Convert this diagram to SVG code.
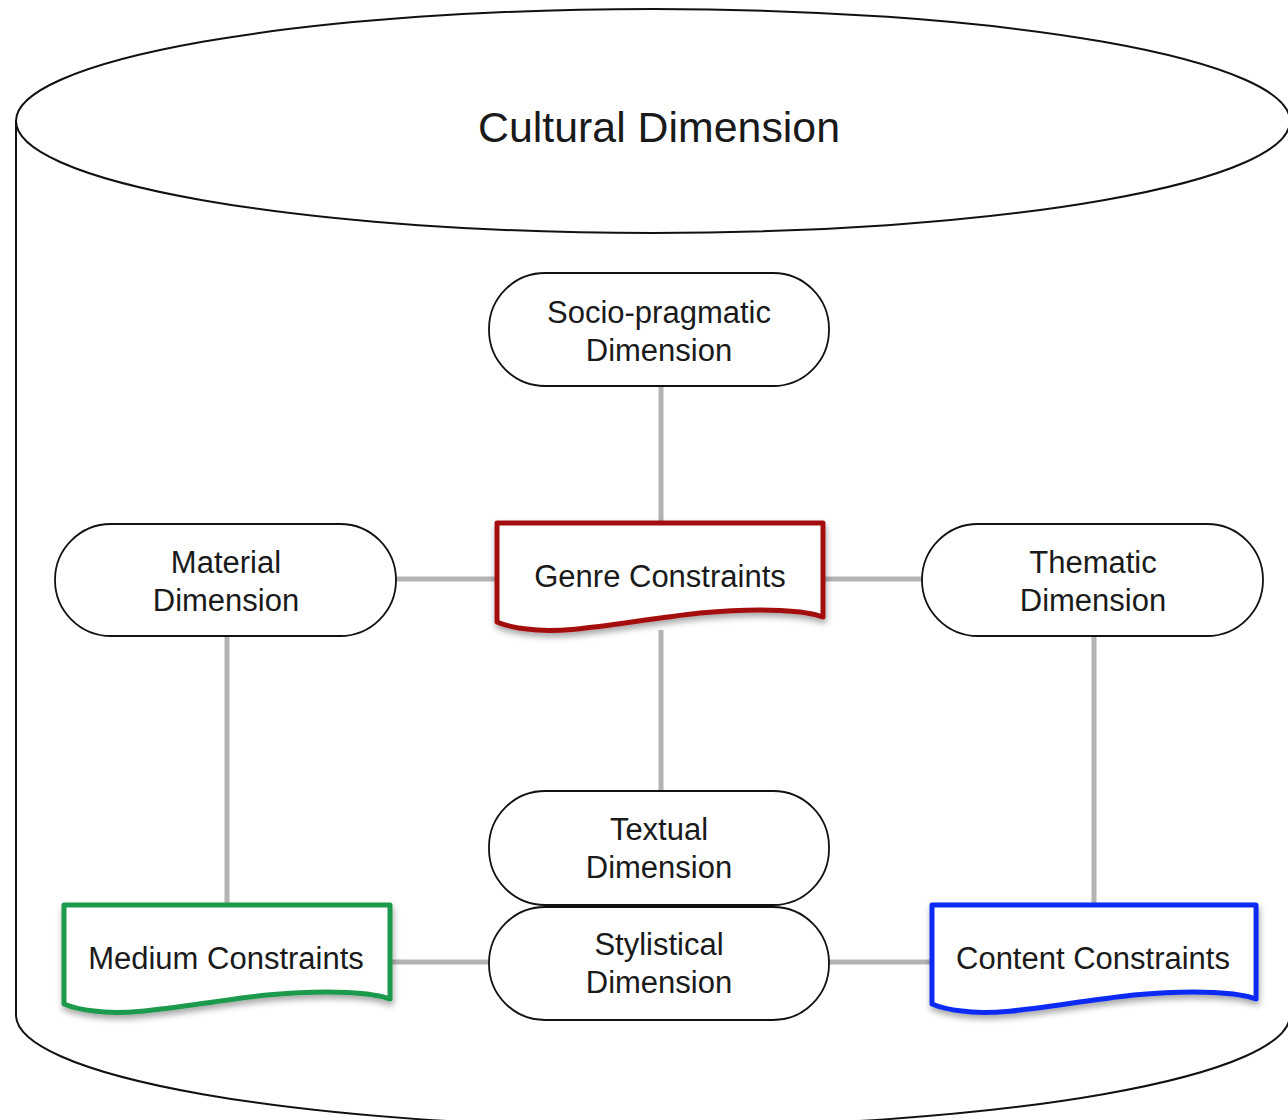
<svg xmlns="http://www.w3.org/2000/svg" width="1288" height="1120" viewBox="0 0 1288 1120">
<style>
.pill{fill:#fff;stroke:#111;stroke-width:1.8}
.cyl{fill:none;stroke:#111;stroke-width:2}
.t{font-family:"Liberation Sans",Arial,sans-serif;font-size:31px;fill:#1a1a1a;text-anchor:middle}
.conn{stroke:#b3b3b3;stroke-width:5;fill:none}
.doc{fill:#fff;stroke-width:5;stroke-linejoin:round}
</style>
<defs>
<filter id="sh" x="-10%" y="-10%" width="125%" height="140%">
<feDropShadow dx="1" dy="4" stdDeviation="3" flood-color="#000" flood-opacity="0.35"/>
</filter>
<path id="docshape" d="M0,0 H326 V94 C310,88 270,84 203,90 C130,98 70,112 30,106 Q12,104 0,99 Z"/>
</defs>
<rect width="1288" height="1120" fill="#fff"/>
<g id="cylinder">
<path class="cyl" d="M16,121 V1015 A637,112 0 0 0 1290,1015 V121"/>
<ellipse class="cyl" cx="653" cy="121" rx="637" ry="112" fill="#fff"/>
<text class="t" x="659" y="142" style="font-size:43px" textLength="362" lengthAdjust="spacingAndGlyphs">Cultural Dimension</text>
</g>
<g id="connectors">
<line class="conn" x1="661" y1="386" x2="661" y2="523"/>
<line class="conn" x1="396" y1="579" x2="497" y2="579"/>
<line class="conn" x1="823" y1="579" x2="922" y2="579"/>
<line class="conn" x1="661" y1="630" x2="661" y2="791"/>
<line class="conn" x1="227" y1="636" x2="227" y2="905"/>
<line class="conn" x1="1094" y1="636" x2="1094" y2="905"/>
<line class="conn" x1="391" y1="962" x2="489" y2="962"/>
<line class="conn" x1="829" y1="962" x2="932" y2="962"/>
</g>
<g id="socio">
<rect class="pill" x="489" y="273" width="340" height="113" rx="56"/>
<text class="t" x="659" y="323">Socio-pragmatic</text>
<text class="t" x="659" y="361">Dimension</text>
</g>
<g id="genre">
<use href="#docshape" transform="translate(497,523)" class="doc" stroke="#a30f0f" filter="url(#sh)"/>
<text class="t" x="660" y="587">Genre Constraints</text>
</g>
<g id="material">
<rect class="pill" x="55" y="524" width="341" height="112" rx="56"/>
<text class="t" x="226" y="573">Material</text>
<text class="t" x="226" y="611">Dimension</text>
</g>
<g id="thematic">
<rect class="pill" x="922" y="524" width="341" height="112" rx="56"/>
<text class="t" x="1093" y="573">Thematic</text>
<text class="t" x="1093" y="611">Dimension</text>
</g>
<g id="textual">
<rect class="pill" x="489" y="791" width="340" height="114" rx="56"/>
<text class="t" x="659" y="840">Textual</text>
<text class="t" x="659" y="878">Dimension</text>
</g>
<g id="stylistical">
<rect class="pill" x="489" y="907" width="340" height="113" rx="56"/>
<text class="t" x="659" y="955">Stylistical</text>
<text class="t" x="659" y="993">Dimension</text>
</g>
<g id="medium">
<use href="#docshape" transform="translate(64,905)" class="doc" stroke="#1f9a4c" filter="url(#sh)"/>
<text class="t" x="226" y="969">Medium Constraints</text>
</g>
<g id="content">
<use href="#docshape" transform="translate(932,905) scale(0.994,1)" class="doc" stroke="#0a2cf5" filter="url(#sh)"/>
<text class="t" x="1093" y="969">Content Constraints</text>
</g>
</svg>
